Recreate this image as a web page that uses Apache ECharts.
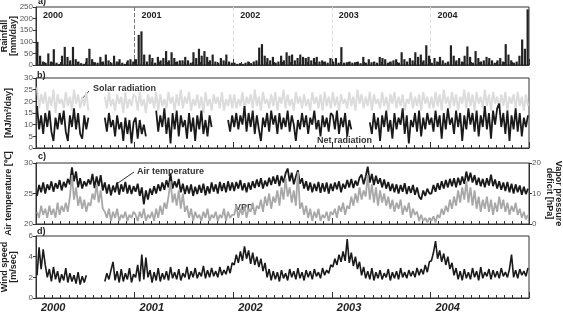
<!DOCTYPE html>
<html>
<head>
<meta charset="utf-8">
<script src="https://cdn.jsdelivr.net/npm/echarts@6/dist/echarts.min.js"></script>
<style>
html, body { margin: 0; padding: 0; background: #fff; }
#chart { width: 563px; height: 315px; }
</style>
</head>
<body>
<div id="chart"></div>
<script>
const years = [2000, 2001, 2002, 2003, 2004];
const yearLabels = ['2000', '2001', '2002', '2003', '2004'];

// a) rainfall, 36 bins a year
const rainfall = [
  [100,40,15,10,50,15,68,10,5,40,78,35,20,78,25,15,8,5,30,70,25,12,10,35,15,45,20,10,40,15,25,10,5,20,25,15],
  [25,130,145,45,15,45,30,10,35,20,30,60,20,55,30,15,20,20,35,20,10,55,30,70,40,60,35,20,45,15,10,30,20,45,15,10],
  [10,5,8,5,10,15,8,15,20,75,90,40,30,20,35,10,15,40,20,55,40,45,20,30,45,35,30,35,20,30,35,15,20,15,10,30],
  [15,30,10,77,10,12,15,10,12,15,8,35,10,25,12,15,10,35,30,25,10,15,20,25,10,55,25,15,30,20,55,35,45,20,85,40],
  [10,30,15,35,20,10,15,85,40,20,30,15,40,80,35,10,60,30,15,20,35,30,20,10,20,30,15,90,45,20,10,15,40,110,70,240]
];

// b) radiation, 48 bins a year
const solarRad = [
  [26,17,23,19,24,16,22,18,25,15,23,19,21,17,24,18,22,16,25,19,23,17,22,18,24,16,
   null,null,null,null,null,null,null,
   22,17,24,18,21,16,23,19,22,15,24,17,21,18,23],
  [22,16,24,18,21,15,23,19,22,17,24,16,23,18,21,17,24,19,22,16,23,18,25,17,22,19,24,16,21,18,23,17,22,15,24,18,21,16,23,19,22,17,24,16,21,18,23,17],
  [23,17,21,18,24,16,22,19,23,17,25,18,22,16,24,19,21,17,23,18,24,16,22,19,25,17,23,18,21,16,24,19,22,17,23,18,21,16,24,19,22,17,23,16,24,18,22,17],
  [24,18,22,16,23,19,21,17,24,18,22,16,25,19,23,17,22,18,24,16,23,19,21,17,24,18,22,16,23,19,24,17,22,18,23,16,21,19,24,17,22,18,23,16,24,19,22,17],
  [22,17,24,18,23,16,25,19,22,17,24,18,23,16,22,19,25,17,24,18,23,16,24,19,22,17,25,18,23,16,24,19,22,17,23,18,24,16,22,19,23,17,24,18,22,16,23,18]
];
const netRad = [
  [18,8,14,6,15,9,16,7,3,13,8,15,10,16,7,3,14,9,17,8,15,6,4,14,8,13,
   null,null,null,null,null,null,null,
   13,7,15,9,12,5,14,8,11,3,13,6,12,2,11],
  [13,4,12,6,10,5,
   null,null,null,null,
   16,7,14,9,17,6,13,2,15,8,16,5,14,9,12,4,15,7,13,3,14,8,16,6,12,5,14,9,
   null,null,null,null,null,null,null,
   12,7,14],
  [9,15,8,14,10,18,7,15,9,16,6,14,8,3,13,9,15,7,16,10,14,6,15,8,13,9,16,7,14,10,3,12,8,15,9,14,6,13,10,16,8,12,5,14,9,13,7,15],
  [14,8,16,6,13,9,15,5,12,8,
   null,null,null,null,null,null,null,null,
   11,6,15,8,13,3,14,9,16,7,12,4,15,8,13,10,17,6,14,2,12,9,15,7,16,5,13,8,15,10],
  [13,7,16,9,14,4,15,8,17,10,13,6,16,9,15,3,14,8,17,10,15,7,16,5,14,9,18,8,15,4,16,10,17,19,9,15,6,16,3,14,8,17,7,15,5,13,9,14]
];

// c) air temperature [°C] and vapor pressure deficit [hPa], 48 bins a year
const airTemp = [
  [24.6,26.4,25.2,26.8,25,26.5,25.6,27,25.3,26.7,25.8,27.2,25.5,26.9,26,27.4,26.5,29.3,27,28.6,26,27.5,25.8,27,26.2,27.3,26.5,28.2,25.9,27.8,26.2,28,25.5,26.8,25,26.5,24.7,26.3,25.2,26.8,24.8,26.5,25.3,26.9,25,26.4,24.9,26.2],
  [25.3,26.6,24.6,26,23.2,25.5,24,25.8,24.8,26.2,25,26.5,25.4,26.8,25.6,27.2,26,28.2,25.8,27,26,27.4,25.2,26.6,24.9,26.3,25,26.5,24.6,26.1,24.9,26.4,25.1,26.6,24.7,26.2,25,26.8,25.3,26.5,25,26.9,25.4,26.7,25.2,27,25.5,26.8],
  [25.4,26.9,25.8,27.2,25.5,26.7,25.2,26.8,25.6,27,25.9,27.3,26.1,27.5,25.8,27.1,26.2,27.6,26.4,27.8,26.6,28,26.2,27.9,26.8,28.3,29.1,27,28.4,26.5,27.8,28.8,26.6,27.5,25.8,27,25.5,26.8,25.2,26.6,25.4,26.9,25.1,26.7,25.3,26.8,25,26.6],
  [25.4,26.8,25.7,27,25.2,26.6,25.8,27.2,26,27.4,25.9,27.1,26.3,27.6,28.1,26.5,27.8,29.4,26.8,28.2,26.4,27.9,26.6,27.5,26,27.3,25.8,26.9,25.4,26.6,25.2,26.5,25,26.4,25.3,26.7,24.9,26.2,25.1,26.4,24.8,26,24.5,24,25.5,24.6,25.8,25],
  [25,26.4,25.3,26.7,25.6,27,25.8,27.2,26,27.4,26.2,27.5,26,27.6,26.4,27.8,26.6,28.6,27,28.4,26.8,28,26.4,27.6,26.2,27.4,26,27.5,26.3,28.1,26.2,27.3,25.8,27,25.6,26.8,25.4,26.9,25.2,26.6,25,26.5,25.2,26.3,24.8,26.1,24.9,25.8]
];
const vpd = [
  [4,2,6,3,5,2,6,3,5,2,7,3,6,4,7,4,9,16,8,12,6,9,5,8,4,7,6,10,8,13,7,11,5,4,2,5,1,4,2,5,1,3,2,4,1,3,2,4],
  [3,1,4,2,5,1,3,2,4,1,5,2,6,3,7,5,9,14,7,10,6,11,5,10,4,6,2,5,1,4,2,3,1,4,2,5,1,3,2,4,1,3,2,5,1,4,2,3],
  [3,6,2,5,3,6,2,5,4,7,3,6,5,8,4,9,6,10,5,9,7,11,6,12,8,15,9,12,7,11,6,17,5,7,3,6,2,5,1,4,2,5,1,3,2,4,1,4],
  [3,5,2,6,4,7,3,6,5,9,6,10,7,12,8,11,9,16,8,13,7,12,6,11,7,10,6,9,5,8,4,7,5,8,3,6,4,7,2,5,3,4,1,3,1,2,0.5,2],
  [1,2.5,0.5,3,2,5,3,6,4,8,5,9,6,11,7,12,8,14,7,12,6,11,5,9,4,8,5,9,4,8,3,7,4,9,5,8,4,7,3,6,4,7,3,5,2,4,1.5,3]
];

// d) wind speed [m/sec], 48 bins a year
const windSpeed = [
  [2.2,4.9,2.8,4.7,3.2,2,2.8,1.6,3,1.8,2.6,1.5,2.3,1.7,2.9,1.5,2.4,1.6,2.2,1.4,2.5,1.3,2.1,1.5,2.2,
   null,null,null,null,null,null,null,null,
   1.6,2.4,1.8,2.7,3.5,1.7,2.6,1.5,2.8,1.6,2.4,1.8,2.9,1.5,2.3],
  [2,3.2,1.6,4.2,1.8,3.9,2,2.7,1.5,2.5,1.7,2.9,1.6,2.4,1.8,2.6,1.7,3,1.9,2.5,1.8,2.8,1.7,2.4,2,3,1.8,2.6,2,2.9,1.9,2.5,2.1,3.1,1.9,2.7,2,2.9,2.1,2.6,2,3,2.2,2.7,2.3,3.1,2.4,3.4],
  [3.2,4.2,3.4,4.5,3.6,5,3.8,4.6,3.3,4.4,3.2,4,3,3.8,2.6,3.4,2,2.8,1.7,2.6,1.8,2.5,1.6,2.7,1.9,2.4,1.7,2.8,2,2.6,1.8,2.9,1.9,2.5,1.7,2.7,2,2.6,1.8,2.8,2.1,2.5,1.9,2.9,2.2,2.7,2.4,3.2],
  [3,3.8,3.2,4.2,3.5,4.5,3.6,5.7,3.4,4.4,3.1,4,2.8,3.5,2.2,3,1.9,2.6,1.8,2.9,1.7,2.5,1.9,2.7,1.8,2.4,2,2.8,1.7,2.5,1.9,2.6,1.8,2.9,2,2.5,1.9,2.7,2.1,2.6,2,2.9,2.2,2.8,2.3,3.2,2.5,3.5],
  [3.6,4.4,5.5,3.8,4.6,3.5,4.3,3.2,4,2.8,3.4,2.2,2.9,1.8,2.6,1.7,2.8,1.9,2.5,1.8,2.9,2,2.6,1.7,3,1.9,2.5,2.1,2.8,1.8,2.7,2,2.6,1.9,2.9,2.1,2.5,2,2.8,4.2,2,2.7,1.9,2.8,2.2,2.6,2.1,2.9]
];

// year rows -> [decimal year, value]
const toPairs = (rows, perYear) => {
  const out = [];
  rows.forEach((row, y) => {
    row.forEach((v, i) => {
      out.push([years[y] + (i + 0.5) / perYear, v]);
    });
  });
  return out;
};

const ink = '#1a1a1a';
const font = 'Liberation Sans, Arial, sans-serif';

const xBase = (gi) => ({
  type: 'value',
  gridIndex: gi,
  min: 2000,
  max: 2005,
  interval: 1,
  axisLine: { lineStyle: { color: '#333', width: 1 } },
  axisTick: { inside: true, length: 6, lineStyle: { color: '#333' } },
  minorTick: { show: true, splitNumber: 12, length: 3, lineStyle: { color: '#333' } },
  axisLabel: { show: false },
  splitLine: { show: false },
});

const yBase = (gi, min, max, interval, name, gap) => ({
  type: 'value',
  gridIndex: gi,
  min: min,
  max: max,
  interval: interval,
  name: name,
  nameLocation: 'middle',
  nameGap: gap,
  nameMoveOverlap: false,
  nameTextStyle: { fontSize: 9, fontWeight: 'bold', color: '#222', lineHeight: 9 },
  axisLine: { show: true, lineStyle: { color: '#333' } },
  axisTick: { show: true, length: 3, lineStyle: { color: '#333' } },
  axisLabel: { fontSize: 8, color: '#555', margin: 3 },
  splitLine: { show: false },
});

const lineSeries = (name, rows, xi, yi, color, width) => ({
  name: name,
  type: 'line',
  xAxisIndex: xi,
  yAxisIndex: yi,
  symbol: 'none',
  lineStyle: { color: color, width: width },
  data: toPairs(rows, 48),
});

const gridBox = { left: 36, right: 34, show: true, borderColor: '#333', borderWidth: 1, outerBoundsMode: 'none' };

const option = {
  animation: false,
  textStyle: { fontFamily: font },
  title: [
    { text: 'a)', left: 38, top: -3 },
    { text: 'b)', left: 37, top: 71 },
    { text: 'c)', left: 38, top: 152 },
    { text: 'd)', left: 37, top: 227 },
  ].map(t => ({ ...t, padding: 0, textStyle: { fontSize: 9, fontWeight: 'bold', color: '#222' } })),
  grid: [
    { ...gridBox, top: 7, height: 58 },
    { ...gridBox, top: 78, height: 70 },
    { ...gridBox, top: 163, height: 61 },
    { ...gridBox, top: 236, height: 62 },
  ],
  xAxis: [
    xBase(0),
    xBase(1),
    xBase(2),
    {
      ...xBase(3),
      axisLabel: {
        show: true,
        formatter: (v) => yearLabels[years.indexOf(v)] || '',
        align: 'left',
        padding: [0, 0, 0, 5],
        margin: 4,
        fontSize: 11,
        fontStyle: 'italic',
        fontWeight: 'bold',
        color: '#222',
      },
    },
    {
      type: 'value',
      gridIndex: 0,
      position: 'top',
      min: 2000,
      max: 2005,
      interval: 1,
      axisLine: { show: false },
      axisTick: { show: false },
      axisLabel: {
        inside: true,
        formatter: (v) => yearLabels[years.indexOf(v)] || '',
        align: 'left',
        padding: [0, 0, 0, 7],
        margin: 4,
        fontSize: 9,
        fontWeight: 'bold',
        color: '#222',
      },
      splitLine: {
        show: true,
        lineStyle: { type: 'dashed', color: ['#999', '#777', '#ddd', '#ddd', '#ddd', '#999'] },
      },
    },
  ],
  yAxis: [
    yBase(0, 0, 250, 50, 'Rainfall\n[mm/day]', 18),
    yBase(1, 0, 30, 5, '[MJ/m²/day]', 23),
    yBase(2, 20, 30, 5, 'Air temperature [℃]', 23),
    { ...yBase(2, 0, 20, 10, 'Vapor pressure\ndeficit [hPa]', 16), position: 'right', nameRotate: -90 },
    yBase(3, 0, 6, 2, 'Wind speed\n[m/sec]', 18),
  ],
  graphic: [
    { type: 'text', left: 93, top: 84, style: { text: 'Solar radiation', font: 'bold 9px ' + font, fill: '#333' } },
    { type: 'line', shape: { x1: 82, y1: 99, x2: 89, y2: 91 }, style: { stroke: '#333', lineWidth: 1 } },
    { type: 'text', left: 317, top: 136, style: { text: 'Net radiation', font: 'bold 9px ' + font, fill: '#333' } },
    { type: 'text', left: 137, top: 167, style: { text: 'Air temperature', font: 'bold 9px ' + font, fill: '#333' } },
    { type: 'line', shape: { x1: 118, y1: 183, x2: 134, y2: 172 }, style: { stroke: '#333', lineWidth: 1 } },
    { type: 'text', left: 235, top: 203, style: { text: 'VPD', font: 'bold 9px ' + font, fill: '#444' } },
  ],
  series: [
    {
      name: 'Rainfall',
      type: 'bar',
      xAxisIndex: 0,
      yAxisIndex: 0,
      barWidth: 2.2,
      itemStyle: { color: '#222' },
      data: toPairs(rainfall, 36),
    },
    lineSeries('Solar radiation', solarRad, 1, 1, '#dcdcdc', 2),
    lineSeries('Net radiation', netRad, 1, 1, ink, 1.8),
    lineSeries('Air temperature', airTemp, 2, 2, ink, 1.8),
    lineSeries('VPD', vpd, 2, 3, '#a8a8a8', 1.8),
    lineSeries('Wind speed', windSpeed, 3, 4, ink, 1.6),
  ],
};

const chart = echarts.init(document.getElementById('chart'));
chart.setOption(option);
</script>
</body>
</html>
